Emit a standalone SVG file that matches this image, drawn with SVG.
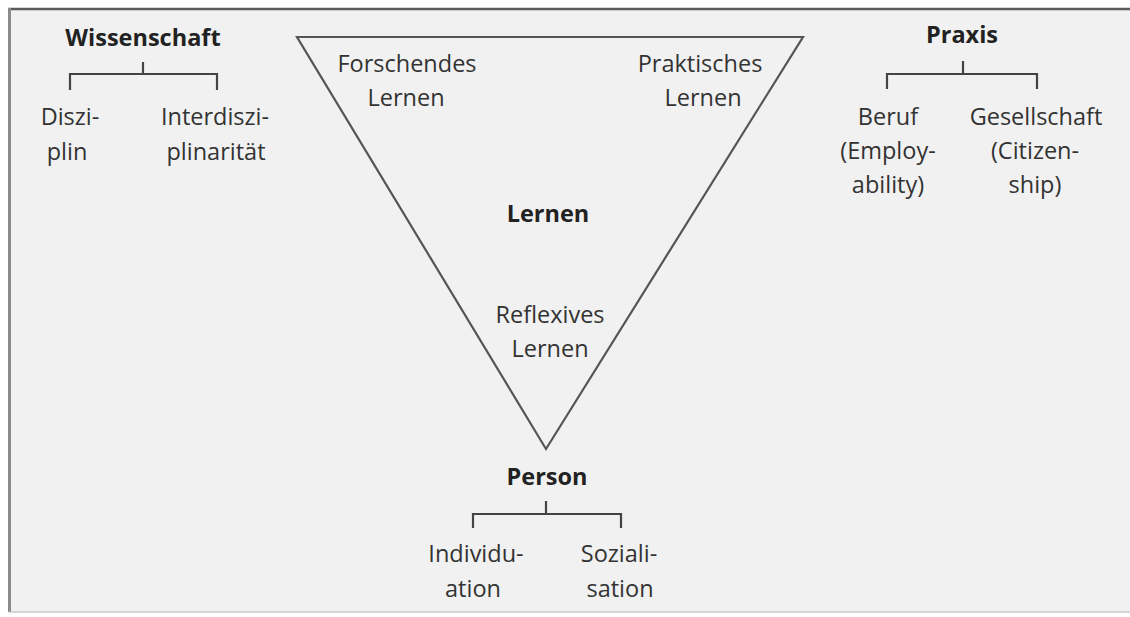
<svg xmlns="http://www.w3.org/2000/svg" width="1130" height="617" viewBox="0 0 1130 617">
<style>
text{font-family:"Open Sans","Noto Sans","Liberation Sans",sans-serif;font-size:23.5px;fill:#333;text-anchor:middle}
.b{font-weight:bold;fill:#222}
.ln{stroke:#444;stroke-width:2.2;fill:none}
</style>
<rect x="0" y="0" width="1130" height="617" fill="#ffffff"/>
<rect x="9" y="9" width="1121" height="603" fill="#f1f1f1"/>
<line x1="8" y1="9" x2="1130" y2="9" stroke="#5a5a5a" stroke-width="2.5"/>
<line x1="9.5" y1="8" x2="9.5" y2="612" stroke="#8a8a8a" stroke-width="3"/>
<line x1="9" y1="612" x2="1130" y2="612" stroke="#c8c8c8" stroke-width="1.5"/>
<g id="connectors">
<path class="ln" d="M143,62 V74 M70,90 V74 H217 V90"/>
<path class="ln" d="M963,61 V74 M887,89 V74 H1037 V89"/>
<path class="ln" d="M546,501 V514 M473,528 V514 H621 V528"/>
</g>
<g id="triangle"><polygon points="297,37 803,37 546,449" fill="none" stroke="#555" stroke-width="2.2"/></g>
<g id="wissenschaft"><text class="b" x="143" y="46">Wissenschaft</text></g>
<g id="disziplin"><text x="70" y="125">Diszi-</text><text x="67" y="160">plin</text></g>
<g id="interdisziplinaritaet"><text x="215" y="125">Interdiszi-</text><text x="216" y="160">plinarität</text></g>
<g id="praxis"><text class="b" x="962" y="43">Praxis</text></g>
<g id="beruf"><text x="888" y="125">Beruf</text><text x="888" y="159">(Employ-</text><text x="888" y="193">ability)</text></g>
<g id="gesellschaft"><text x="1036" y="125">Gesellschaft</text><text x="1035" y="159">(Citizen-</text><text x="1035" y="193">ship)</text></g>
<g id="forschendes"><text x="407" y="72">Forschendes</text><text x="406" y="106">Lernen</text></g>
<g id="praktisches"><text x="700" y="72">Praktisches</text><text x="703" y="106">Lernen</text></g>
<g id="lernen"><text class="b" x="548" y="222">Lernen</text></g>
<g id="reflexives"><text x="550" y="323">Reflexives</text><text x="550" y="357">Lernen</text></g>
<g id="person"><text class="b" x="547" y="485">Person</text></g>
<g id="individuation"><text x="476" y="562">Individu-</text><text x="473" y="597">ation</text></g>
<g id="sozialisation"><text x="619" y="562">Soziali-</text><text x="620" y="597">sation</text></g>
</svg>
